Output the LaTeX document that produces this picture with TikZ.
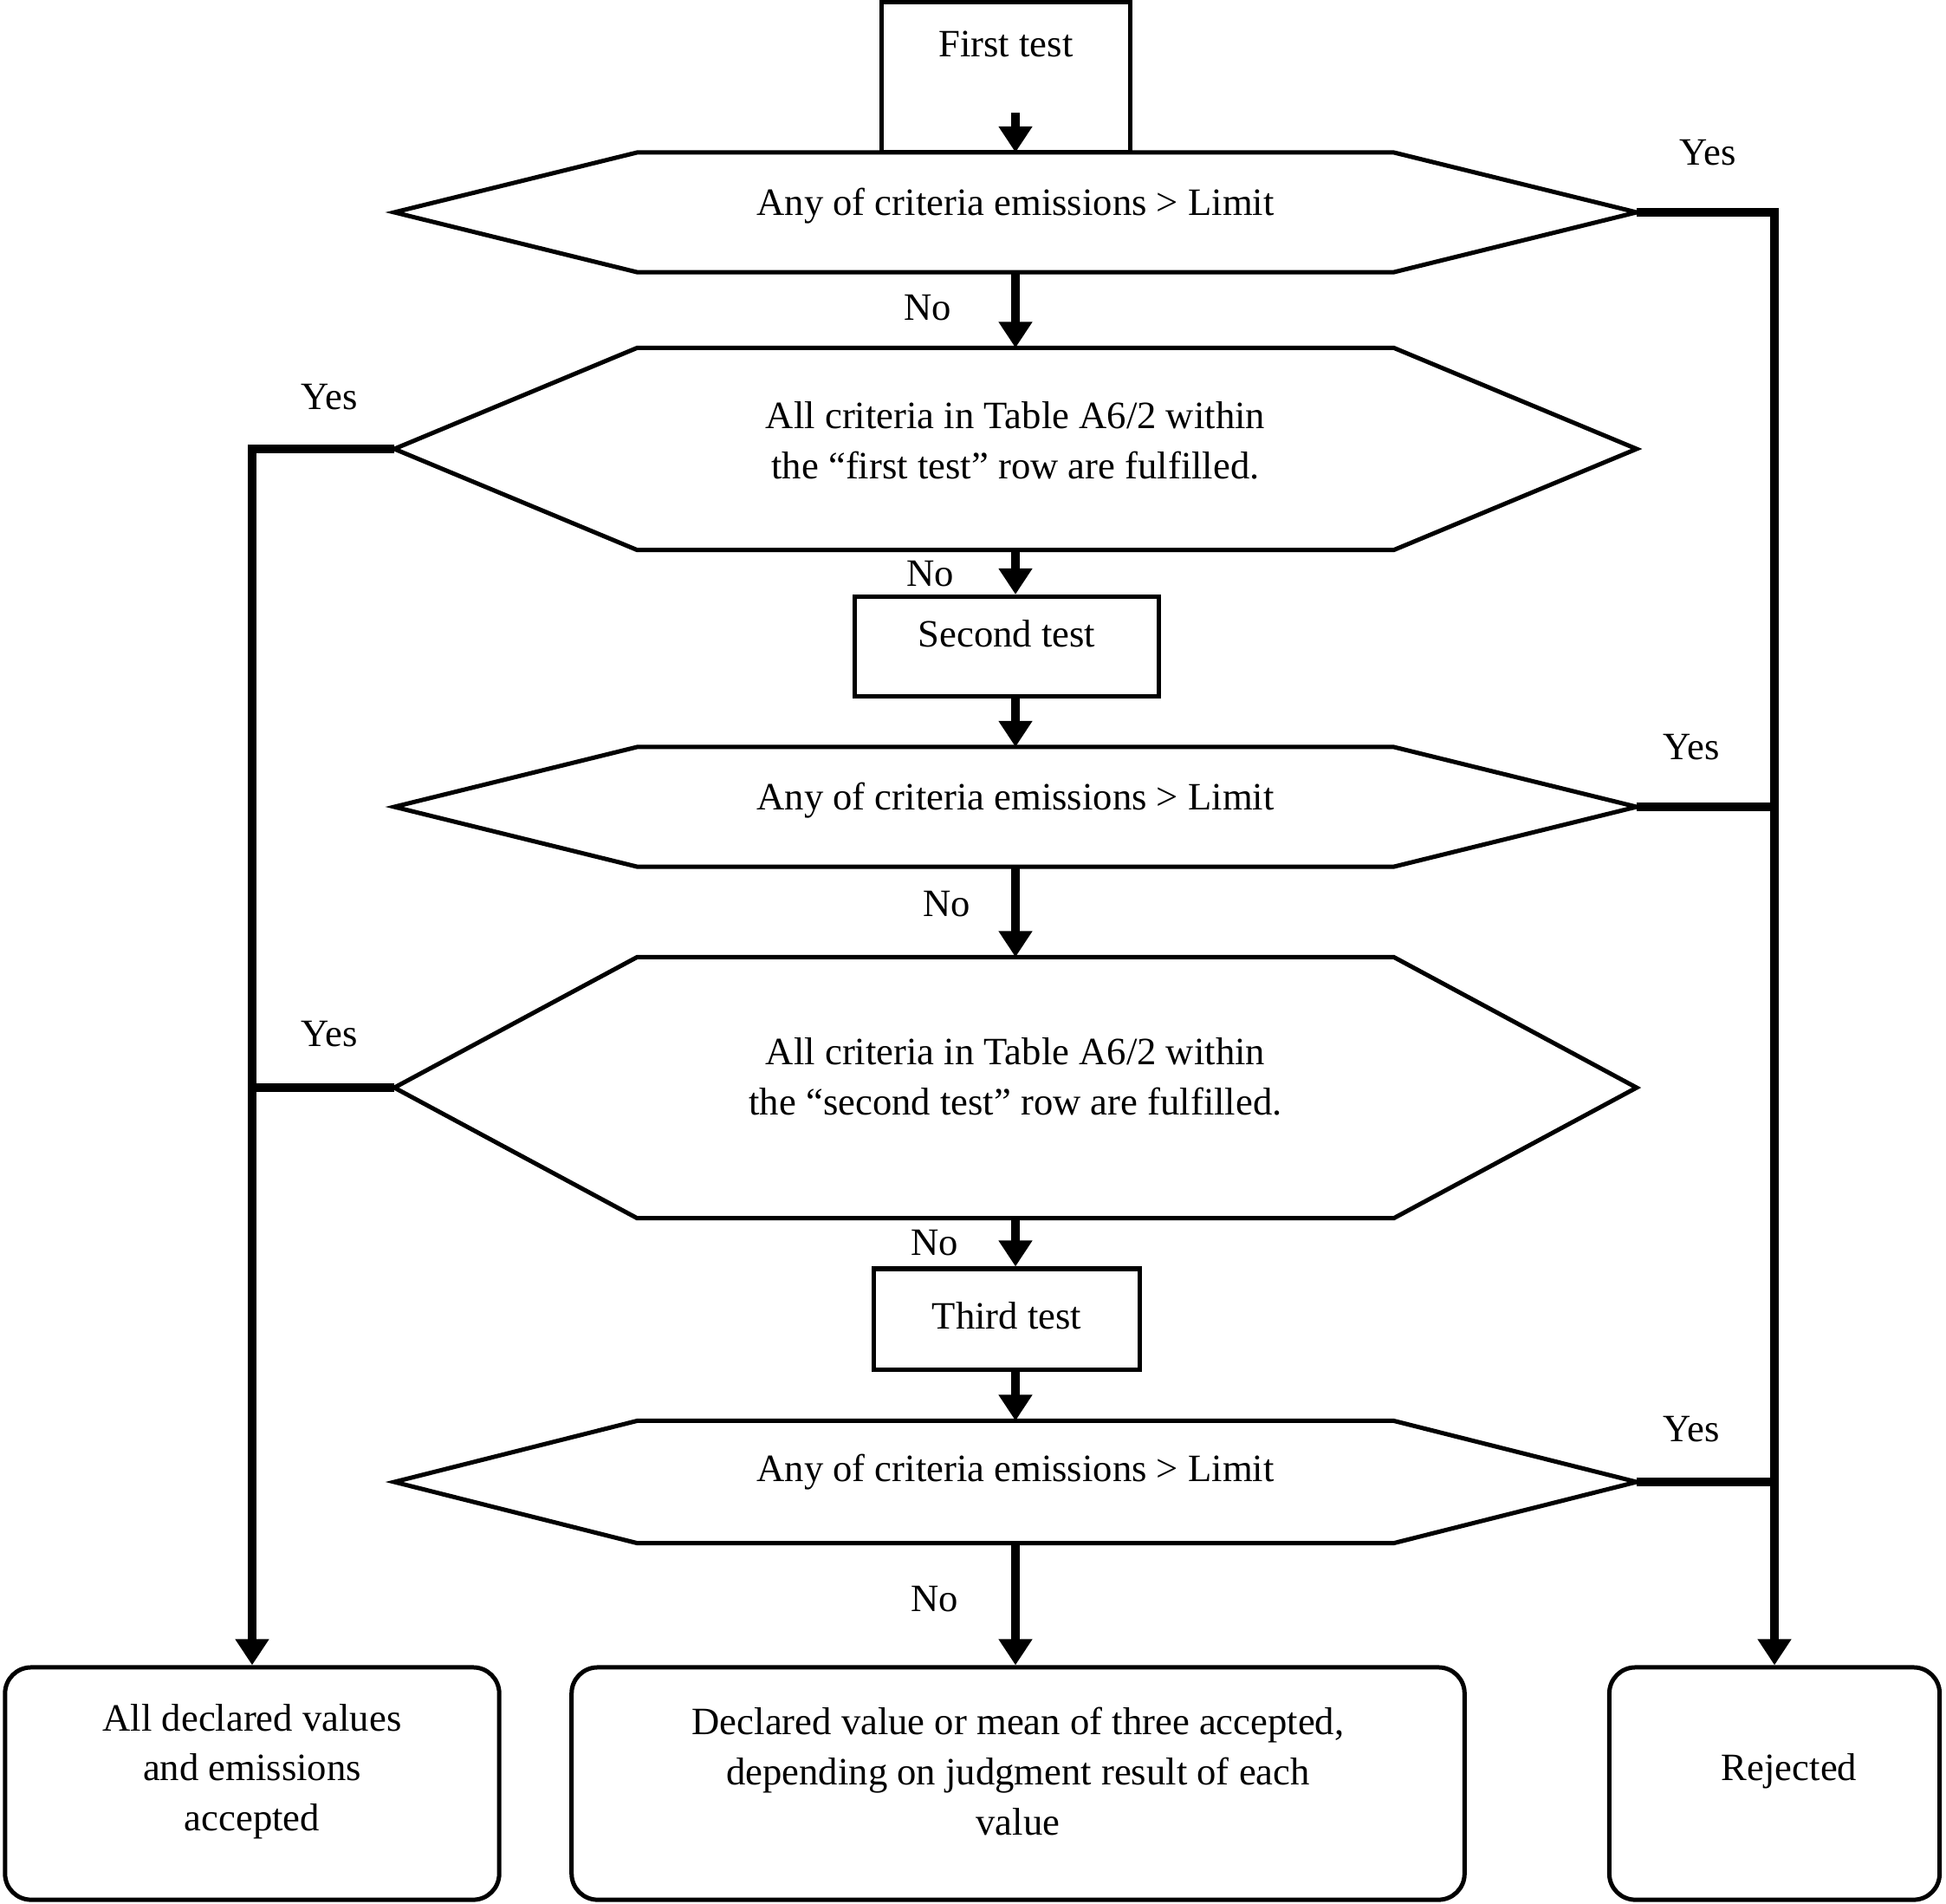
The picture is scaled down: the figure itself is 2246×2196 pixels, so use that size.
\documentclass[tikz,border=0pt]{standalone}
\usepackage{fontspec}
\setmainfont{Liberation Serif}
\usetikzlibrary{arrows.meta, positioning, calc}
\newcommand{\flowfont}{\fontsize{12.7}{16.4}\selectfont}
\tikzset{
  testbox/.style={rectangle, draw, line width=0.05cm, minimum width=#1,
                  align=center, font=\flowfont, inner sep=2pt},
  testbox/.default=3.5cm,
  decision/.style={rectangle, draw=none, minimum width=8.73cm, minimum height=#1,
                   inner sep=0pt, outer sep=0pt},
  decision/.default=1.38cm,
  hexline/.style={line width=0.05cm},
  result/.style={rectangle, rounded corners=0.3cm, draw, line width=0.05cm,
                 minimum width=#1, minimum height=2.68cm},
  result/.default=3.8cm,
  intext/.style={font=\flowfont, align=center, inner sep=0pt, yshift=#1},
  intext/.default=0.1cm,
  arrow/.style={-{Triangle[width=0.37cm,length=0.3cm]}, line width=0.1cm},
  branch/.style={line width=0.1cm},
  answer/.style={font=\flowfont, inner sep=0pt},
}

\begin{document}
\begin{tikzpicture}[x=0.01cm, y=-0.01cm]
  \useasboundingbox (0,0) rectangle (2246,2196);

  % Tests
  \node[testbox=2.86cm, minimum height=1.73cm, text depth=0.76cm] (first) at (1161,89) {First test};
  \node[testbox=3.5cm, minimum height=1.15cm,
        label={[intext=0.15cm, name=second-t]center:Second test}] (second) at (1162,746) {};
  \node[testbox=3.07cm, minimum height=1.16cm,
        label={[intext=0.04cm, name=third-t]center:Third test}] (third) at (1162,1522) {};

  % Decisions
  \node[decision=1.38cm, label={[intext=0.07cm, name=d1-t]center:Any of criteria emissions > Limit}]
       (d1) at (1172,245) {};
  \node[decision=2.33cm, label={[intext, name=d2-t]center:{All criteria in Table A6/2 within\\the “first test” row are fulfilled.}}]
       (d2) at (1172,518) {};
  \node[decision=1.38cm, label={[intext=0.07cm, name=d3-t]center:Any of criteria emissions > Limit}]
       (d3) at (1172,931) {};
  \node[decision=3.01cm, label={[intext=0.13cm, name=d4-t]center:{All criteria in Table A6/2 within\\the “second test” row are fulfilled.}}]
       (d4) at (1172,1255) {};
  \node[decision=1.41cm, label={[intext=0.11cm, name=d5-t]center:Any of criteria emissions > Limit}]
       (d5) at (1172,1710) {};

  \foreach \d in {d1,d2,d3,d4,d5} {
    \draw[hexline] (\d.north west) -- (\d.north east) -- ([xshift=2.8cm]\d.east) coordinate (\d-r)
      -- (\d.south east) -- (\d.south west) -- ([xshift=-2.8cm]\d.west) coordinate (\d-l) -- cycle;
  }

  % Results
  \node[result=5.7cm, label={[intext=0.14cm, name=acc-t]center:{All declared values\\and emissions\\accepted}}]
       (acc) at (291,2058) {};
  \node[result=10.3cm, label={[intext=0.14cm, name=mid-t]center:{Declared value or mean of three accepted,\\depending on judgment result of each\\value}}]
       (mid) at (1175,2058) {};
  \node[result=3.81cm, label={[intext=0.14cm, xshift=0.17cm, name=rej-t]center:Rejected}]
       (rej) at (2048,2058) {};

  % Main flow
  \draw[arrow] ($(first.south -| d1.north)+(0,-48)$) -- (d1.north);
  \draw[arrow] (d1.south) -- (d2.north);
  \draw[arrow] (d2.south) -- (second.north -| d2.south);
  \draw[arrow] (second.south -| d3.north) -- (d3.north);
  \draw[arrow] (d3.south) -- (d4.north);
  \draw[arrow] (d4.south) -- (third.north -| d4.south);
  \draw[arrow] (third.south -| d5.north) -- (d5.north);
  \draw[arrow] (d5.south) -- (mid.north -| d5.south);

  % Yes branches
  \draw[arrow] (d1-r) -| (rej.north);
  \draw[branch] (d3-r) -- (d3-r -| rej.north);
  \draw[branch] (d5-r) -- (d5-r -| rej.north);
  \draw[arrow] (d2-l) -| (acc.north);
  \draw[branch] (d4-l) -- (d4-l -| acc.north);

  % Answers
  \foreach \nm/\x/\y/\t in {y1/1971/176/Yes, n1/1071/355/No, y2/380/458/Yes, n2/1074/662/No,
                            y3/1952/862/Yes, n3/1093/1043/No, y4/380/1193/Yes, n4/1079/1434/No,
                            y5/1952/1649/Yes, n5/1079/1845/No}
    \node[answer] (\nm) at (\x,\y) {\t};
\end{tikzpicture}
\end{document}
